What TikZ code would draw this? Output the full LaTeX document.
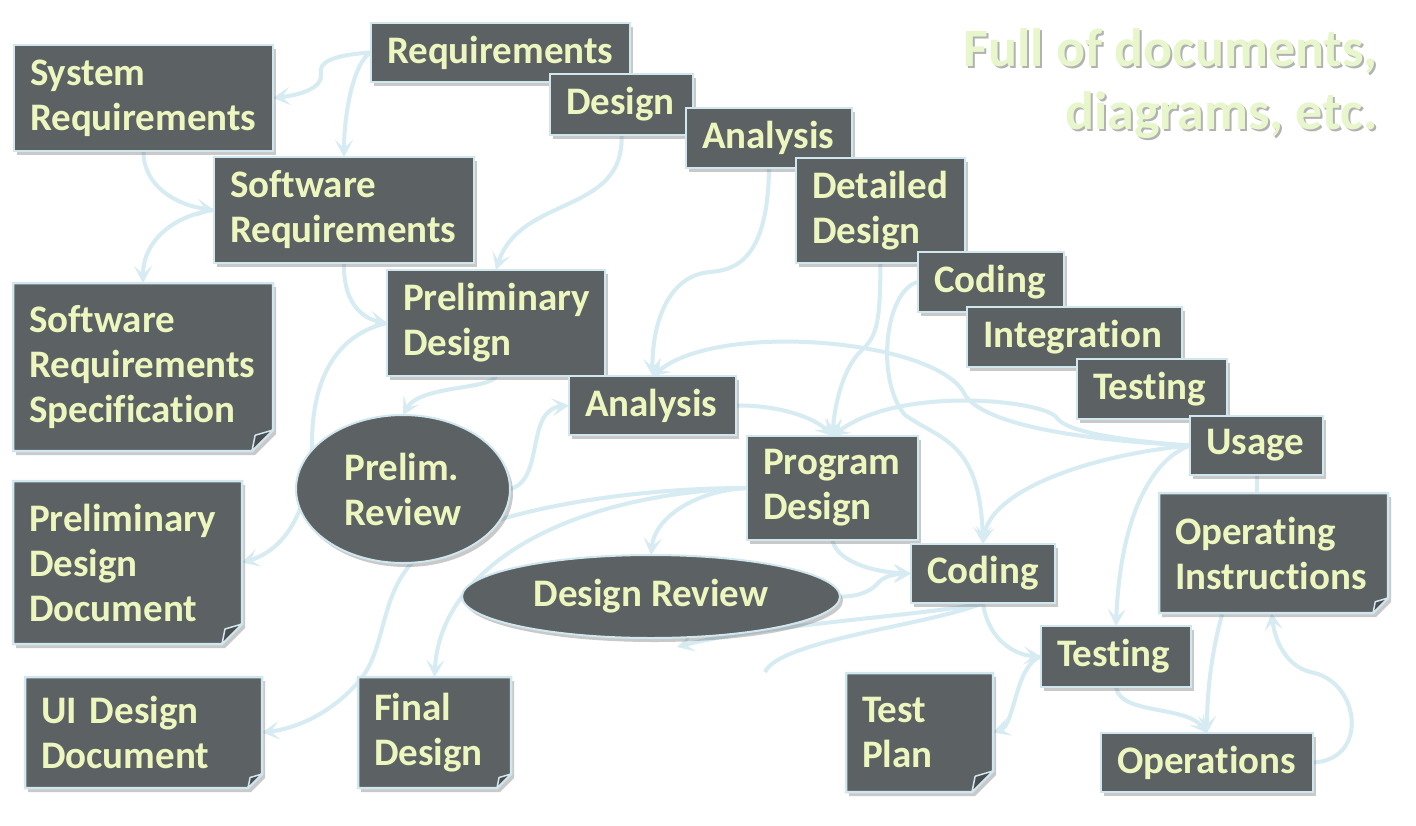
\documentclass[tikz,border=0pt]{standalone}
\usepackage{fontspec}
\setmainfont[Ligatures={NoCommon}]{Carlito}
\usetikzlibrary{arrows.meta,shapes.geometric,shadows,calc}
\definecolor{boxc}{RGB}{92,97,100}
\definecolor{bordc}{RGB}{208,231,239}
\definecolor{linec}{RGB}{214,235,242}
\definecolor{txtc}{RGB}{236,246,190}
\definecolor{titlec}{RGB}{232,246,204}
\pgfdeclarelayer{bgwhite}
\pgfdeclarelayer{edges}
\pgfdeclarelayer{shapes}
\pgfsetlayers{bgwhite,edges,shapes,main}
\newcommand\boxfont{\fontsize{39}{45}\selectfont\bfseries}
\newcommand\docshape[2]{%
  \begin{pgfonlayer}{shapes}
  \path[docpoly] (#1.north west) -- (#1.north east) -- ($(#1.south east)+(0,-#2)$) -- ($(#1.south east)+(-#2,0)$) -- (#1.south west) -- cycle;
  \path[fold] ($(#1.south east)+(0,-#2)$) -- ($(#1.south east)+(-#2,0)$) -- ($(#1.south east)+(-0.85*#2,-0.75*#2)$) -- cycle;
  \end{pgfonlayer}}
\tikzset{
  shad/.style={drop shadow={shadow xshift=3pt, shadow yshift=-4pt, opacity=0.35, fill=black!60}},
  box/.style={shad, draw=bordc, line width=2.5pt, fill=boxc, text=txtc, font=\boxfont, align=left, inner xsep=16pt, inner ysep=0pt, outer sep=0pt},
  docnode/.style={text=txtc, font=\boxfont, align=left, inner xsep=16pt, inner ysep=0pt, outer sep=0pt},
  docpoly/.style={shad, draw=bordc, line width=2.5pt, fill=boxc, line join=miter},
  fold/.style={draw=bordc, line width=1.5pt, fill=boxc!80!black, line join=round},
  oval/.style={ellipse, shad, draw=bordc, line width=2pt, fill=boxc, text=txtc, font=\boxfont, align=left, inner sep=0pt, outer sep=0pt},
  conn/.style={draw=linec, line width=4pt, -{Stealth[length=17pt,width=18pt,inset=8pt]}},
  plainconn/.style={draw=linec, line width=4pt},
  titletext/.style={font=\fontsize{54}{63}\selectfont\bfseries, align=right, inner sep=0pt, anchor=north east}
}
\begin{document}
\begin{tikzpicture}[x=1pt,y=-1pt]
\begin{pgfonlayer}{bgwhite}
\fill[white] (0,0) rectangle (1416,825);
\end{pgfonlayer}
\useasboundingbox (0,0) rectangle (1416,825);

% title
\node[titletext, text=black!30] (titlesh) at (1380,30) {Full of documents,\\diagrams, etc.};
\node[titletext, text=titlec] (title) at (1378,28) {Full of documents,\\diagrams, etc.};

% staircase
\node[box, minimum width=259pt, minimum height=59pt, text width=227pt] (req) at (500.5,52.5) {Requirements};
\node[box, minimum width=143pt, minimum height=61pt, text width=111pt] (des) at (621.5,104.5) {Design};
\node[box, minimum width=166pt, minimum height=60pt, text width=134pt] (ana1) at (769,138) {Analysis};
\node[box, minimum width=169pt, minimum height=105pt, text width=137pt] (det) at (880.5,210.5) {Detailed\\Design};
\node[box, minimum width=146pt, minimum height=60pt, text width=114pt] (cod1) at (991,282) {Coding};
\node[box, minimum width=215pt, minimum height=60pt, text width=183pt] (integ) at (1074.5,337) {Integration};
\node[box, minimum width=150pt, minimum height=60pt, text width=118pt] (tst1) at (1152,389) {Testing};
\node[box, minimum width=133pt, minimum height=59pt, text width=101pt] (usage) at (1256.5,445.5) {Usage};

% other boxes
\node[box, minimum width=259pt, minimum height=106pt, text width=227pt] (sysreq) at (143.5,98) {System\\Requirements};
\node[box, minimum width=260pt, minimum height=106pt, text width=228pt] (swreq) at (344,210) {Software\\Requirements};
\node[box, minimum width=218pt, minimum height=106pt, text width=186pt] (pd) at (496,323) {Preliminary\\Design};
\node[box, minimum width=167pt, minimum height=59pt, text width=135pt] (ana2) at (652.5,405.5) {Analysis};
\node[box, minimum width=171pt, minimum height=104pt, text width=139pt] (prog) at (832.5,488) {Program\\Design};
\node[box, minimum width=144pt, minimum height=59pt, text width=112pt] (cod2) at (983,573.5) {Coding};
\node[box, minimum width=150pt, minimum height=61pt, text width=118pt] (tst2) at (1116,656.5) {Testing};
\node[box, minimum width=212pt, minimum height=59pt, text width=180pt] (ops) at (1207,762.5) {Operations};
\node[oval, minimum width=214pt, minimum height=148pt] (prev) at (403,489) {Prelim.\\Review};
\node[oval, minimum width=378pt, minimum height=83pt] (drev) at (651,596.5) {Design Review};

% documents
\node[docnode, minimum width=260pt, minimum height=168pt, text width=228pt] (srs) at (143,367) {Software\\Requirements\\Specification};
\node[docnode, minimum width=229pt, minimum height=163pt, text width=197pt] (pdd) at (127.5,562.5) {Preliminary\\Design\\Document};
\node[docnode, minimum width=237pt, minimum height=111pt, text width=205pt] (uid) at (143.5,732.5) {UI Design\\Document};
\node[docnode, minimum width=153pt, minimum height=111pt, text width=121pt] (fin) at (434.5,732.5) {Final\\Design};
\node[docnode, minimum width=147pt, minimum height=119pt, text width=115pt] (tplan) at (919.5,732.5) {Test\\Plan};
\node[docnode, minimum width=229pt, minimum height=120pt, text width=197pt] (opi) at (1273.5,553) {Operating\\Instructions};
\docshape{srs}{21}
\docshape{pdd}{20}
\docshape{uid}{14}
\docshape{fin}{14}
\docshape{tplan}{21}
\docshape{opi}{15}

\coordinate (drtip) at (677,647);
\coordinate (freeend) at (765,672);

\begin{pgfonlayer}{edges}
% requirements area
\draw[conn] (req.west) .. controls (333,55) and (318,62) .. (321,74) .. controls (323,88) and (300,95) .. (sysreq.east);
\draw[conn] (req.west) .. controls (355,60) and (344,110) .. (swreq.north);
\draw[conn] (sysreq.south) .. controls (143,185) and (175,205) .. (swreq.west);
\draw[conn] (swreq.west) .. controls (175,215) and (143,240) .. (srs.north);
\draw[conn] (swreq.south) .. controls (343,300) and (360,318) .. (pd.west);
\draw[conn] (des.south) .. controls (625,215) and (520,195) .. (pd.north);
\draw[conn] (pd.west) .. controls (335,335) and (313,380) .. (312,440) .. controls (311,510) and (285,550) .. (pdd.east);
\draw[conn] (pd.south) .. controls (490,390) and (420,385) .. (prev.north);
\draw[conn] (prev.east) .. controls (545,480) and (525,410) .. (ana2.west);
% analysis
\draw[conn] (ana1.south) .. controls (768,260) and (735,270) .. (710,272) .. controls (670,275) and (652,320) .. (ana2.north);
\draw[conn] (usage.west) .. controls (1080,440) and (985,425) .. (965,395) .. controls (940,340) and (720,320) .. (ana2.north);
% program design
\draw[conn] (ana2.east) .. controls (780,405) and (815,418) .. (prog.north);
\draw[conn] (det.south) .. controls (880,320) and (878,335) .. (862,350) .. controls (845,365) and (835,400) .. (prog.north);
\draw[conn] (usage.west) .. controls (1110,440) and (1065,430) .. (1057,418) .. controls (1045,400) and (900,385) .. (prog.north);
% coding
\draw[conn] (cod1.west) .. controls (885,290) and (875,380) .. (905,415) .. controls (940,440) and (980,440) .. (cod2.north);
\draw[conn] (usage.west) .. controls (1090,455) and (990,490) .. (cod2.north);
\draw[conn] (usage.west) .. controls (1150,460) and (1120,520) .. (tst2.north);
\draw[plainconn] (usage.south) -- (usage.south |- opi.north);
\draw[conn] (prog.south) .. controls (836,560) and (870,572) .. (cod2.west);
\draw[conn] (drev.east) .. controls (860,597) and (872,590) .. (878,583) .. controls (884,576) and (895,574) .. (cod2.west);
% from program design to the left
\draw[conn] (prog.west) .. controls (700,490) and (655,515) .. (drev.north);
\draw[conn] (prog.west) .. controls (560,495) and (440,570) .. (fin.north);
\draw[conn] (prog.west) .. controls (600,488) and (450,520) .. (410,565) .. controls (380,600) and (385,650) .. (360,680) .. controls (335,710) and (300,728) .. (uid.east);
% from coding
\draw[conn] (cod2.south) .. controls (930,615) and (760,625) .. (drtip);
\draw[plainconn] (cod2.south) .. controls (930,625) and (780,640) .. (freeend);
\draw[conn] (cod2.south) .. controls (988,640) and (1015,655) .. (tst2.west);
\draw[conn] (tst2.west) .. controls (1015,665) and (1015,725) .. (tplan.east);
\draw[conn] (tst2.south) .. controls (1120,715) and (1185,705) .. (ops.north);
\draw[conn] ($(opi.south)+(-51,0)$) .. controls (1212,650) and (1207,690) .. (ops.north);
\draw[conn] (ops.east) .. controls (1370,760) and (1360,680) .. (1310,672) .. controls (1285,665) and (1275,640) .. ($(opi.south)+(-2,0)$);
\end{pgfonlayer}
\end{tikzpicture}
\end{document}
